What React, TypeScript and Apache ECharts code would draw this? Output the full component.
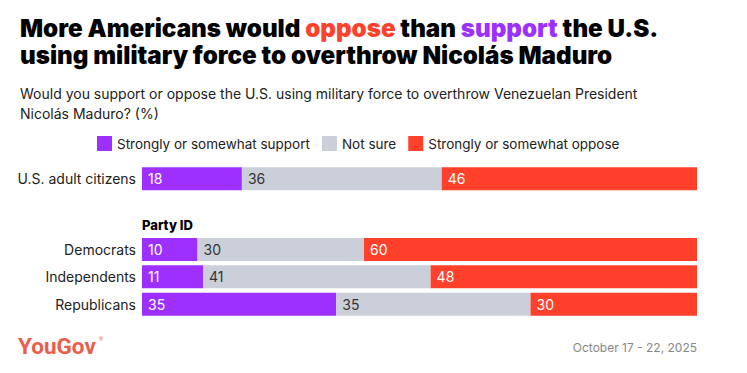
import React, { useEffect, useRef } from "react";
import * as echarts from "echarts";

const topCategories = ["U.S. adult citizens"];
const partyCategories = ["Democrats", "Independents", "Republicans"];
const seriesNames = ["Strongly or somewhat support", "Not sure", "Strongly or somewhat oppose"];
const topSupport = [18];
const topNotSure = [36];
const topOppose = [46];
const partySupport = [10, 11, 35];
const partyNotSure = [30, 41, 35];
const partyOppose = [60, 48, 30];

const PURPLE = "#9D30FF";
const GRAY = "#CBCFD9";
const RED = "#FF412C";
const FONT = "Inter, 'Noto Sans', sans-serif";

export default function App() {
  const ref = useRef<HTMLDivElement>(null);
  useEffect(() => {
    document.body.style.margin = "0";
    const chart = echarts.init(ref.current!, null, { renderer: "svg" });
    const colors = [PURPLE, GRAY, RED];
    const labelColors = ["#ffffff", "#333333", "#ffffff"];
    const mk = (name: string, idx: number, data: number[], gi: number) => ({
      name,
      type: "bar",
      stack: "s" + gi,
      xAxisIndex: gi,
      yAxisIndex: gi,
      barWidth: 23,
      data,
      itemStyle: { color: colors[idx] },
      label: {
        show: true,
        position: "insideLeft",
        distance: 6,
        color: labelColors[idx],
        fontFamily: FONT,
        fontSize: 14,
      },
    });
    const yAxisBase = {
      type: "category",
      inverse: true,
      axisLine: { show: false },
      axisTick: { show: false },
      axisLabel: { color: "#222", fontSize: 14, fontFamily: FONT, margin: 6 },
    };
    const xAxisBase = { type: "value", min: 0, max: 100, show: false };
    const t = { fontFamily: FONT, fontWeight: 900, fontSize: 24.2, lineHeight: 27 };
    chart.setOption({
      animation: false,
      title: {
        left: 20,
        top: 15,
        padding: 0,
        text:
          "{a|More Americans would }{r|oppose}{a| than }{p|support}{a| the U.S.}\n{a|using military force to overthrow Nicolás Maduro}",
        textStyle: {
          rich: {
            a: { ...t, color: "#000" },
            r: { ...t, color: RED },
            p: { ...t, color: PURPLE },
          },
        },
        subtext:
          "Would you support or oppose the U.S. using military force to overthrow Venezuelan President\nNicolás Maduro? (%)",
        subtextStyle: { fontFamily: FONT, fontSize: 14, color: "#222", lineHeight: 19.5 },
        itemGap: 18,
      },
      legend: {
        left: 97,
        top: 136,
        padding: 0,
        itemWidth: 15,
        itemHeight: 15,
        itemGap: 12,
        icon: "rect",
        textStyle: { fontFamily: FONT, fontSize: 13.5, color: "#222" },
        data: seriesNames,
      },
      grid: [
        { left: 142, right: 50, top: 165, height: 27.3 },
        { left: 142, right: 50, top: 235.8, height: 82 },
      ],
      xAxis: [
        { ...xAxisBase, gridIndex: 0 },
        { ...xAxisBase, gridIndex: 1 },
      ],
      yAxis: [
        { ...yAxisBase, gridIndex: 0, data: topCategories },
        { ...yAxisBase, gridIndex: 1, data: partyCategories },
      ],
      series: [
        mk(seriesNames[0], 0, topSupport, 0),
        mk(seriesNames[1], 1, topNotSure, 0),
        mk(seriesNames[2], 2, topOppose, 0),
        mk(seriesNames[0], 0, partySupport, 1),
        mk(seriesNames[1], 1, partyNotSure, 1),
        mk(seriesNames[2], 2, partyOppose, 1),
      ],
      graphic: [
        {
          type: "text",
          left: 142,
          top: 218,
          style: { text: "Party ID", fontFamily: FONT, fontWeight: 800, fontSize: 13, fill: "#000" },
        },
        {
          type: "text",
          left: 18,
          top: 334,
          style: {
            text: "YouGov",
            fontFamily: "Roboto, sans-serif",
            fontWeight: 700,
            fontSize: 22.5,
            fill: "#EA5E4D",
          },
        },
        {
          type: "text",
          left: 99,
          top: 336,
          style: { text: "®", fontFamily: "Roboto, sans-serif", fontSize: 5, fill: "#EA5E4D" },
        },
        {
          type: "text",
          right: 50,
          top: 341,
          style: { text: "October 17 - 22, 2025", fontFamily: FONT, fontSize: 12, fill: "#888" },
        },
      ],
    });
    return () => chart.dispose();
  }, []);
  return <div ref={ref} style={{ width: 747, height: 373 }} />;
}
